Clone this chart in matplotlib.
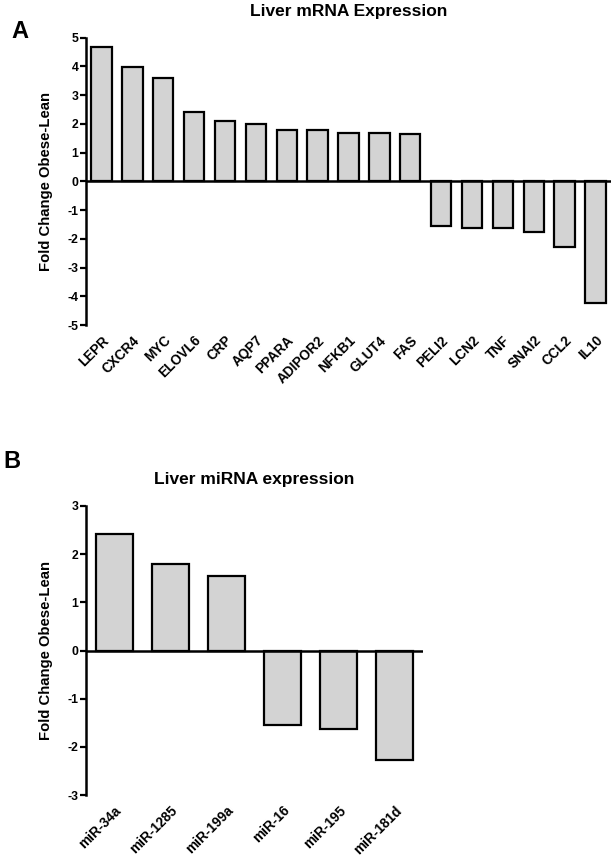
import matplotlib
matplotlib.use("Agg")
import matplotlib.pyplot as plt

genes = ["LEPR", "CXCR4", "MYC", "ELOVL6", "CRP", "AQP7", "PPARA", "ADIPOR2",
         "NFKB1", "GLUT4", "FAS", "PELI2", "LCN2", "TNF", "SNAI2", "CCL2", "IL10"]
gene_fc = [4.68, 3.97, 3.59, 2.41, 2.09, 2.00, 1.80, 1.78,
           1.67, 1.67, 1.65, -1.55, -1.64, -1.64, -1.75, -2.28, -4.22]

mirnas = ["miR-34a", "miR-1285", "miR-199a", "miR-16", "miR-195", "miR-181d"]
mirna_fc = [2.41, 1.80, 1.54, -1.54, -1.64, -2.28]

plt.rcParams['font.family'] = ['Liberation Sans', 'DejaVu Sans']
plt.rcParams['font.weight'] = 'bold'
plt.rcParams['axes.unicode_minus'] = False

W, H = 614, 858
fig = plt.figure(figsize=(W / 100, H / 100), dpi=100)


def panel(rect, cats, vals, ylim, title, letter, letter_xy):
    ax = fig.add_axes(rect)
    x = list(range(len(cats)))
    ax.bar(x, vals, width=0.66, color="#d3d3d3", edgecolor="black", linewidth=1.6, zorder=2)
    ax.set_xlim(-0.5, len(cats) - 0.5)
    ax.set_ylim(*ylim)
    ax.axhline(0, color="black", linewidth=1.8, zorder=3)
    for s in ("top", "right", "bottom"):
        ax.spines[s].set_visible(False)
    ax.spines["left"].set_linewidth(1.8)
    ax.set_yticks(range(ylim[0], ylim[1] + 1))
    ax.tick_params(axis="y", length=4, width=1.6, labelsize=8.8, pad=1.5)
    ax.set_xticks(x)
    ax.set_xticklabels(cats, rotation=45, ha="right", rotation_mode="anchor",
                       fontsize=9.8, fontweight="bold")
    ax.tick_params(axis="x", length=0, pad=6)
    for lab in ax.get_yticklabels():
        lab.set_fontweight("bold")
    ax.set_ylabel("Fold Change Obese-Lean", fontsize=10.7, fontweight="bold", labelpad=10)
    ax.set_title(title, fontsize=12.5, fontweight="bold", pad=15.5)
    fig.text(letter_xy[0] / W, 1 - letter_xy[1] / H, letter, fontsize=17,
             fontweight="bold", ha="left", va="top")
    return ax


panel([86 / W, 1 - 325 / H, (611 - 86) / W, (325 - 37.7) / H], genes, gene_fc,
      (-5, 5), "Liver mRNA Expression", "A", (11, 20))
panel([86 / W, 1 - 795 / H, (423 - 86) / W, (795 - 506) / H], mirnas, mirna_fc,
      (-3, 3), "Liver miRNA expression", "B", (3, 450))

fig.savefig("out.png", dpi=100)
